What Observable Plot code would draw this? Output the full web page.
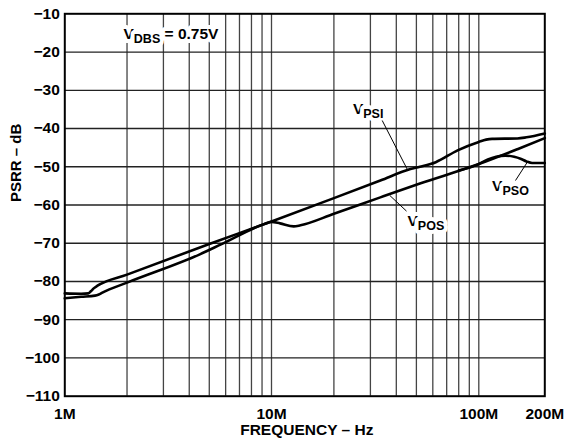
<!DOCTYPE html>
<html><head><meta charset="utf-8">
<script src="https://cdn.jsdelivr.net/npm/d3@7"></script>
<script src="https://cdn.jsdelivr.net/npm/@observablehq/plot@0.6"></script>
<style>html,body{margin:0;padding:0;background:#fff}</style>
</head><body><div id="chart"></div>
<script>
// ---- data (frequency in MHz, PSRR in dB) ----
const vpsiFreqMHz = [1, 1.2, 1.3, 1.34, 1.38, 1.44, 2, 5, 10, 20, 33.5, 46.8, 52, 62, 79, 100, 108, 115, 150, 165, 200];
const vpsiDb      = [-83.1, -83.2, -83.1, -82.5, -81.8, -81.1, -78.2, -70.2, -64.3, -58.2, -53.6, -50.6, -50.0, -48.8, -45.7, -43.5, -42.9, -42.7, -42.6, -42.3, -41.3];

const vposFreqMHz = [1, 1.2, 1.4, 1.46, 1.52, 2, 4.5, 5.7, 9.2, 10, 11, 12.8, 13.8, 20, 33.5, 52, 100, 150, 200];
const vposDb      = [-84.4, -84.0, -83.7, -83.4, -82.9, -80.3, -72.9, -70.3, -65.0, -64.4, -64.8, -65.6, -65.3, -62.3, -58.0, -54.4, -49.3, -45.4, -42.5];

const vpsoFreqMHz = [80, 100, 110, 120, 132, 145, 155, 165, 175, 200];
const vpsoDb      = [-51.0, -49.3, -48.1, -47.4, -47.1, -47.4, -47.9, -48.6, -49.0, -49.0];

const xTickValues = [1e6, 1e7, 1e8, 2e8];
const xTickLabels = ["1M", "10M", "100M", "200M"];
const yTickValues = [-110, -100, -90, -80, -70, -60, -50, -40, -30, -20, -10];
const gridFreqs = [2e6,3e6,4e6,5e6,6e6,7e6,8e6,9e6,1e7,2e7,3e7,4e7,5e7,6e7,7e7,8e7,9e7,1e8];
const gridDb = [-100, -90, -80, -70, -60, -50, -40, -30, -20];

// curve annotations: text ("main|subscript|rest"), anchor freq (Hz), dB
const labelTexts = ["V|DBS| = 0.75V", "V|PSI", "V|POS", "V|PSO"];
const labelFreqs = [1.923e6, 24.7e6, 45.3e6, 115e6];
const labelDb    = [-15.2, -35.0, -64.3, -55.1];

// leader lines: start/end (Hz, dB)
const leaderF1 = [34.2e6, 37.2e6, 166e6];
const leaderD1 = [-37.9, -57.5, -48.9];
const leaderF2 = [45.1e6, 44.8e6, 147e6];
const leaderD2 = [-50.6, -61.6, -53.6];

const series = (name, fs, ds) => fs.map((f, i) => ({name, f: f * 1e6, db: ds[i]}));
const curves = [
  ...series("VPSI", vpsiFreqMHz, vpsiDb),
  ...series("VPOS", vposFreqMHz, vposDb),
  ...series("VPSO", vpsoFreqMHz, vpsoDb)
];
const labels = labelTexts.map((t, i) => ({t, f: labelFreqs[i], db: labelDb[i]}));
const leaders = leaderF1.map((f, i) => ({f1: f, d1: leaderD1[i], f2: leaderF2[i], d2: leaderD2[i]}));
const xLabelMap = new Map(xTickValues.map((v, i) => [v, xTickLabels[i]]));

const font = "'Liberation Sans', Arial, Helvetica, sans-serif";

const svg = Plot.plot({
  width: 566,
  height: 444,
  marginLeft: 64.3,
  marginRight: 21.7,
  marginTop: 13.3,
  marginBottom: 48.3,
  style: {fontFamily: font, fontSize: "15.5px", fontWeight: "bold", background: "white", color: "black"},
  x: {type: "log", domain: [1e6, 1e7, 1e8, 2e8], range: [64.3, 271, 478.3, 544.3]},
  y: {domain: [-110, -10]},
  marks: [
    Plot.ruleX(gridFreqs, {stroke: "#444", strokeWidth: 1.3}),
    Plot.ruleY(gridDb, {stroke: "#222", strokeWidth: 1.3}),
    Plot.line(curves, {x: "f", y: "db", z: "name", stroke: "black", strokeWidth: 2.6, curve: "monotone-x"}),
    Plot.text(labels, {x: "f", y: "db", text: "t", textAnchor: "start", fontSize: 15.5, fontWeight: "bold",
      stroke: "white", strokeWidth: 8, paintOrder: "stroke", fill: "black"}),
    Plot.link(leaders, {x1: "f1", y1: "d1", x2: "f2", y2: "d2", stroke: "black", strokeWidth: 1}),
    Plot.frame({stroke: "black", strokeWidth: 2}),
    Plot.axisX(xTickValues, {tickSize: 0, tickPadding: 11.6, tickFormat: d => xLabelMap.get(d), fontSize: 15.5, fontWeight: "bold"}),
    Plot.axisY(yTickValues, {tickSize: 0, tickPadding: 5, tickFormat: d => "\u2212" + Math.abs(d), fontSize: 15.5, fontWeight: "bold"}),
    Plot.text(["FREQUENCY \u2013 Hz"], {frameAnchor: "bottom", dx: 2, dy: 38.7, fontSize: 15.5, fontWeight: "bold"}),
    Plot.text(["PSRR \u2013 dB"], {frameAnchor: "left", dx: -49, dy: -3, rotate: -90, fontSize: 15, fontWeight: "bold"})
  ]
});

// render subscripts as tspans
d3.select(svg).selectAll("text").each(function() {
  const t = this.textContent;
  if (!t.includes("|")) return;
  const parts = t.split("|");
  const sel = d3.select(this);
  sel.text(null);
  sel.append("tspan").text(parts[0]);
  sel.append("tspan").attr("font-size", 12.5).attr("dy", 4).text(parts[1]);
  if (parts[2]) sel.append("tspan").attr("dy", -4).text(parts[2]);
});

document.getElementById("chart").appendChild(svg);
</script>
</body></html>
